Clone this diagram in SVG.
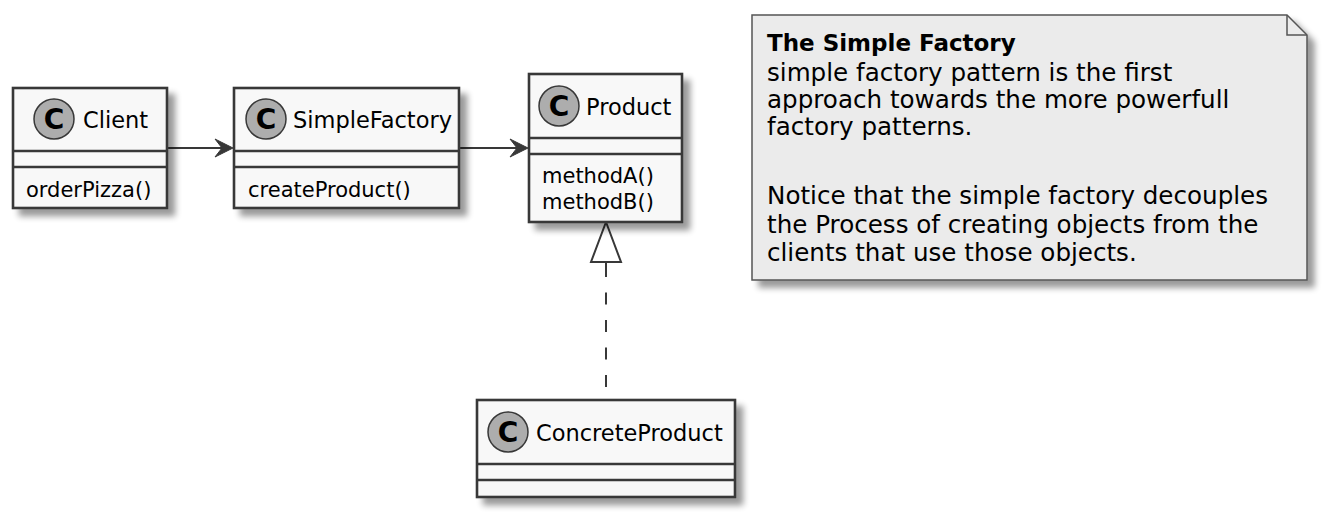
<svg xmlns="http://www.w3.org/2000/svg" width="1328" height="516" viewBox="0 0 1328 516">
<style>
.box{fill:#F8F8F8;stroke:#383838;stroke-width:2.6}
.div{stroke:#383838;stroke-width:2.6}
.circ{fill:#ADADAD;stroke:#383838;stroke-width:1.5}
.cl{font-family:"DejaVu Sans",sans-serif;font-weight:bold;font-size:28px;fill:#000;text-anchor:middle}
.name{font-family:"DejaVu Sans",sans-serif;font-size:22.5px;fill:#000}
.mem{font-family:"DejaVu Sans",sans-serif;font-size:21px;fill:#000}
.note{fill:#EBEBEB;stroke:#555;stroke-width:1.5}
.nt{font-family:"DejaVu Sans",sans-serif;font-size:24.6px;fill:#000}
.ntb{font-family:"DejaVu Sans",sans-serif;font-size:23px;font-weight:bold;fill:#000}
.ln{stroke:#383838;stroke-width:2;fill:none}
.ah{fill:#383838;stroke:#383838;stroke-width:1}
</style>
<defs>
<filter id="sh" x="-10%" y="-10%" width="130%" height="140%">
<feGaussianBlur in="SourceAlpha" stdDeviation="3"/>
<feOffset dx="7" dy="7"/>
<feComponentTransfer><feFuncA type="linear" slope="0.4"/></feComponentTransfer>
<feMerge><feMergeNode/><feMergeNode in="SourceGraphic"/></feMerge>
</filter>
</defs>
<rect width="1328" height="516" fill="#FFFFFF"/>

<g id="connectors">
<line class="ln" x1="167" y1="148" x2="226" y2="148"/>
<polygon class="ah" points="233,148 215,139 222,148 215,157"/>
<line class="ln" x1="459" y1="148" x2="521" y2="148"/>
<polygon class="ah" points="528,148 510,139 517,148 510,157"/>
<line class="ln" x1="606" y1="265" x2="606" y2="400" stroke-dasharray="12 15.5"/>
<line class="ln" x1="606" y1="262" x2="606" y2="268"/>
<polygon points="606,222 591,262 621,262" fill="#FFFFFF" stroke="#383838" stroke-width="2"/>
</g>

<g id="Client">
<rect class="box" x="13" y="88" width="154" height="120" filter="url(#sh)"/>
<line class="div" x1="13" y1="151" x2="167" y2="151"/>
<line class="div" x1="13" y1="167" x2="167" y2="167"/>
<circle class="circ" cx="54" cy="119" r="20"/>
<text class="cl" x="54" y="129">C</text>
<text class="name" x="83" y="128">Client</text>
<text class="mem" x="26" y="197">orderPizza()</text>
</g>

<g id="SimpleFactory">
<rect class="box" x="234" y="88" width="225" height="120" filter="url(#sh)"/>
<line class="div" x1="234" y1="151" x2="459" y2="151"/>
<line class="div" x1="234" y1="167" x2="459" y2="167"/>
<circle class="circ" cx="266" cy="119" r="20"/>
<text class="cl" x="266" y="129">C</text>
<text class="name" x="293" y="128">SimpleFactory</text>
<text class="mem" x="248" y="197">createProduct()</text>
</g>

<g id="Product">
<rect class="box" x="529" y="74" width="153" height="148" filter="url(#sh)"/>
<line class="div" x1="529" y1="138" x2="682" y2="138"/>
<line class="div" x1="529" y1="154" x2="682" y2="154"/>
<circle class="circ" cx="559" cy="106" r="20"/>
<text class="cl" x="559" y="116">C</text>
<text class="name" x="586" y="115">Product</text>
<text class="mem" x="542" y="183">methodA()</text>
<text class="mem" x="542" y="209">methodB()</text>
</g>

<g id="ConcreteProduct">
<rect class="box" x="477" y="400" width="258" height="97" filter="url(#sh)"/>
<line class="div" x1="477" y1="464" x2="735" y2="464"/>
<line class="div" x1="477" y1="480" x2="735" y2="480"/>
<circle class="circ" cx="508" cy="432" r="20"/>
<text class="cl" x="508" y="442">C</text>
<text class="name" x="536" y="441">ConcreteProduct</text>
</g>

<g id="note">
<polygon class="note" points="752,15 1287,15 1307,35 1307,280 752,280" filter="url(#sh)"/>
<path d="M1287,15 L1287,35 L1307,35" fill="none" stroke="#555" stroke-width="1.5"/>
<text class="ntb" x="767" y="51">The Simple Factory</text>
<text class="nt" x="767" y="81">simple factory pattern is the first</text>
<text class="nt" x="767" y="108">approach towards the more powerfull</text>
<text class="nt" x="767" y="135">factory patterns.</text>
<text class="nt" x="767" y="204">Notice that the simple factory decouples</text>
<text class="nt" x="767" y="233">the Process of creating objects from the</text>
<text class="nt" x="767" y="261">clients that use those objects.</text>
</g>
</svg>
